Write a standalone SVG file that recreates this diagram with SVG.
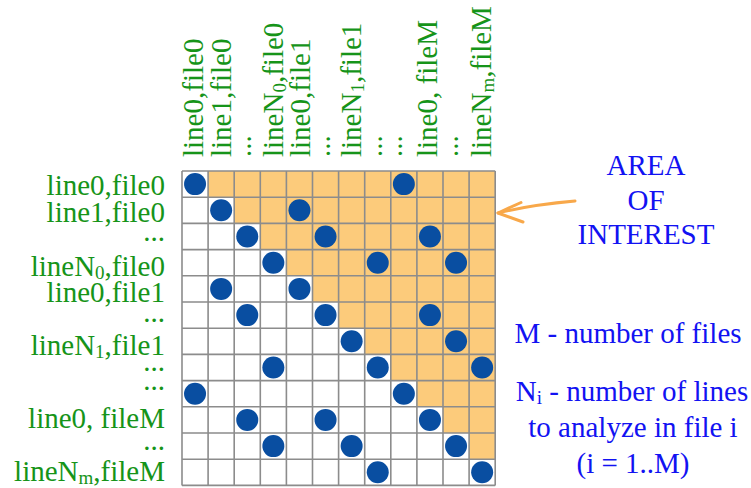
<svg xmlns="http://www.w3.org/2000/svg" width="751" height="488" viewBox="0 0 751 488">
  <style>
    .lbl { font-family: "Liberation Serif", "Times New Roman", serif; font-size: 29px; fill: #169419; }
    .row { text-anchor: end; }
    .note { font-family: "Liberation Serif", "Times New Roman", serif; font-size: 29px; fill: #1212f2; text-anchor: middle; }
    .sub { font-size: 19px; }
    .cells { fill: #ffffff; }
    .area { fill: #fccb7b; }
    .grid { fill: none; stroke: #8c8c8c; stroke-width: 1.6; }
    .dot { fill: #094ea1; }
    .arrow { fill: none; stroke: #f8a84a; stroke-width: 3; stroke-linecap: round; stroke-linejoin: round; }
  </style>

  <!-- matrix background: white cells with the upper triangle shaded -->
  <g id="matrix">
    <rect class="cells" x="182" y="171" width="313.2" height="314.4"/>
    <polygon class="area" points="208.1,171 495.2,171 495.2,459.2 469.1,459.2 469.1,433 443,433 443,406.8 416.9,406.8 416.9,380.6 390.8,380.6 390.8,354.4 364.7,354.4 364.7,328.2 338.6,328.2 338.6,302 312.5,302 312.5,275.8 286.4,275.8 286.4,249.6 260.3,249.6 260.3,223.4 234.2,223.4 234.2,197.2 208.1,197.2"/>
    <path class="grid" d="M182,171V485.4 M208.1,171V485.4 M234.2,171V485.4 M260.3,171V485.4 M286.4,171V485.4 M312.5,171V485.4 M338.6,171V485.4 M364.7,171V485.4 M390.8,171V485.4 M416.9,171V485.4 M443,171V485.4 M469.1,171V485.4 M495.2,171V485.4
      M182,171H495.2 M182,197.2H495.2 M182,223.4H495.2 M182,249.6H495.2 M182,275.8H495.2 M182,302H495.2 M182,328.2H495.2 M182,354.4H495.2 M182,380.6H495.2 M182,406.8H495.2 M182,433H495.2 M182,459.2H495.2 M182,485.4H495.2"/>
  </g>

  <!-- matching line pairs -->
  <g id="matches">
    <circle class="dot" cx="195.05" cy="184.1" r="11"/>
    <circle class="dot" cx="403.85" cy="184.1" r="11"/>

    <circle class="dot" cx="221.15" cy="210.3" r="11"/>
    <circle class="dot" cx="299.45" cy="210.3" r="11"/>

    <circle class="dot" cx="247.25" cy="236.5" r="11"/>
    <circle class="dot" cx="325.55" cy="236.5" r="11"/>
    <circle class="dot" cx="429.95" cy="236.5" r="11"/>

    <circle class="dot" cx="273.35" cy="262.7" r="11"/>
    <circle class="dot" cx="377.75" cy="262.7" r="11"/>
    <circle class="dot" cx="456.05" cy="262.7" r="11"/>

    <circle class="dot" cx="221.15" cy="288.9" r="11"/>
    <circle class="dot" cx="299.45" cy="288.9" r="11"/>

    <circle class="dot" cx="247.25" cy="315.1" r="11"/>
    <circle class="dot" cx="325.55" cy="315.1" r="11"/>
    <circle class="dot" cx="429.95" cy="315.1" r="11"/>

    <circle class="dot" cx="351.65" cy="341.3" r="11"/>
    <circle class="dot" cx="456.05" cy="341.3" r="11"/>

    <circle class="dot" cx="273.35" cy="367.5" r="11"/>
    <circle class="dot" cx="377.75" cy="367.5" r="11"/>
    <circle class="dot" cx="482.15" cy="367.5" r="11"/>

    <circle class="dot" cx="195.05" cy="393.7" r="11"/>
    <circle class="dot" cx="403.85" cy="393.7" r="11"/>

    <circle class="dot" cx="247.25" cy="419.9" r="11"/>
    <circle class="dot" cx="325.55" cy="419.9" r="11"/>
    <circle class="dot" cx="429.95" cy="419.9" r="11"/>

    <circle class="dot" cx="273.35" cy="446.1" r="11"/>
    <circle class="dot" cx="351.65" cy="446.1" r="11"/>
    <circle class="dot" cx="456.05" cy="446.1" r="11"/>

    <circle class="dot" cx="377.75" cy="472.3" r="11"/>
    <circle class="dot" cx="482.15" cy="472.3" r="11"/>
  </g>

  <!-- row headings -->
  <g id="row-labels" class="lbl row">
    <text x="165" y="195">line0,file0</text>
    <text x="165" y="222">line1,file0</text>
    <text x="165" y="241">...</text>
    <text x="165" y="276">lineN<tspan class="sub" dy="3">0</tspan><tspan dy="-3">,file0</tspan></text>
    <text x="165" y="302">line0,file1</text>
    <text x="165" y="322">...</text>
    <text x="165" y="355">lineN<tspan class="sub" dy="3">1</tspan><tspan dy="-3">,file1</tspan></text>
    <text x="165" y="371">...</text>
    <text x="165" y="390">...</text>
    <text x="165" y="428">line0, fileM</text>
    <text x="165" y="450">...</text>
    <text x="165" y="481">lineN<tspan class="sub" dy="3">m</tspan><tspan dy="-3">,fileM</tspan></text>
  </g>

  <!-- column headings, written bottom to top -->
  <g id="column-labels" class="lbl">
    <text transform="translate(203,157) rotate(-90)">line0,file0</text>
    <text transform="translate(231,157) rotate(-90)">line1,file0</text>
    <text transform="translate(251,157) rotate(-90)">...</text>
    <text transform="translate(283,157) rotate(-90)">lineN<tspan class="sub" dy="3">0</tspan><tspan dy="-3">,file0</tspan></text>
    <text transform="translate(310,157) rotate(-90)">line0,file1</text>
    <text transform="translate(330,157) rotate(-90)">...</text>
    <text transform="translate(361,157) rotate(-90)">lineN<tspan class="sub" dy="3">1</tspan><tspan dy="-3">,file1</tspan></text>
    <text transform="translate(382,157) rotate(-90)">...</text>
    <text transform="translate(402,157) rotate(-90)">...</text>
    <text transform="translate(437,157) rotate(-90)">line0, fileM</text>
    <text transform="translate(458,157) rotate(-90)">...</text>
    <text transform="translate(491,157) rotate(-90)">lineN<tspan class="sub" dy="3">m</tspan><tspan dy="-3">,fileM</tspan></text>
  </g>

  <!-- callout and legend -->
  <g id="area-label" class="note">
    <text x="646" y="175">AREA</text>
    <text x="646" y="210">OF</text>
    <text x="646" y="244">INTEREST</text>
  </g>

  <g id="legend" class="note">
    <text x="628" y="343">M - number of files</text>
    <text x="632" y="401">N<tspan class="sub" dy="3">i</tspan><tspan dy="-3"> - number of lines</tspan></text>
    <text x="633" y="437">to analyze in file i</text>
    <text x="633" y="473">(i = 1..M)</text>
  </g>

  <g id="connectors">
    <path class="arrow" d="M575,201 Q530,205 498,213"/>
    <path class="arrow" d="M521,202.5 L498,213 L523,222"/>
  </g>
</svg>
